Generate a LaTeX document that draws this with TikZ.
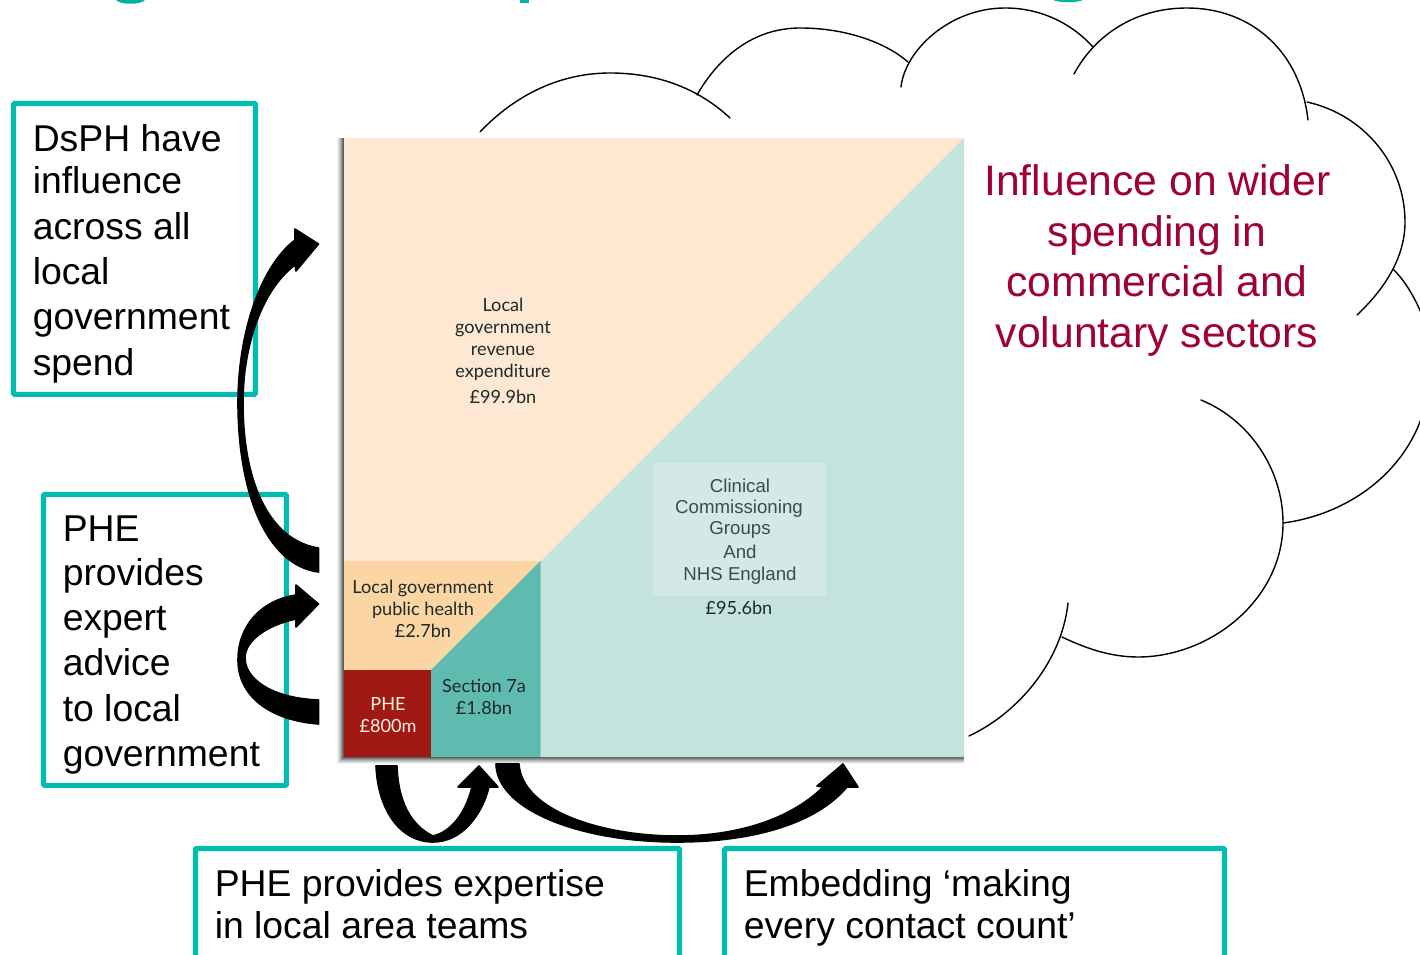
\documentclass[tikz,border=0pt]{standalone}
\usepackage{fontspec}
\setmainfont{Liberation Sans}
\newfontfamily\chartfont{Lato}
\definecolor{tealline}{HTML}{00BDB0}
\definecolor{titleteal}{HTML}{00B2A0}
\definecolor{crim}{HTML}{A00038}
\definecolor{peach}{HTML}{FEE8D2}
\definecolor{paleteal}{HTML}{C5E3DD}
\definecolor{orangepale}{HTML}{FBD5A3}
\definecolor{midteal}{HTML}{5FBBB0}
\definecolor{phered}{HTML}{A01914}
\definecolor{clinbox}{HTML}{D2E9E5}
\definecolor{darktxt}{HTML}{1E2A2A}
\tikzset{
  x=0.75pt,y=-0.75pt,
  tealbox/.style={draw=tealline,line width=3.8pt,rounded corners=0.8pt,anchor=north west,inner sep=0pt,outer sep=0pt},
  boxtext/.style={anchor=base west,align=left,inner sep=0pt,font=\fontsize{28}{33.6}\selectfont},
  cloudarc/.style={draw=black,line width=1.05pt,line cap=round},
  bigarrow/.style={fill=black,draw=black,line width=1.2pt,line join=round},
  chartlab/.style={align=center,inner sep=0pt,anchor=base,font=\chartfont\fontsize{13.6}{16.5}\selectfont,text=darktxt},
  cliniclab/.style={align=center,inner sep=0pt,anchor=base,font=\fontsize{14}{16.3}\selectfont,text=darktxt!85!white},
  cloudtext/.style={align=center,inner sep=0pt,anchor=base,text=crim,font=\fontsize{32}{38}\selectfont},
}
\begin{document}
\begin{tikzpicture}
\useasboundingbox (0,0) rectangle (1420,955);
\clip (0,0) rectangle (1420,955);
\fill[white] (0,0) rectangle (1420,955);

% cut-off title descenders
\fill[titleteal] (116,0) .. controls (120,5) and (141,5) .. (145,0) -- cycle;
\fill[titleteal] (520,0) rectangle (529,3);
\fill[titleteal] (1053,0) .. controls (1060,3) and (1076,3) .. (1083,0) -- cycle;

% cloud
\draw[cloudarc] (480,132) .. controls (515,95) and (560,73) .. (610,73) .. controls (660,73) and (700,90) .. (730,118);
\draw[cloudarc] (697,95) .. controls (720,55) and (755,28) .. (800,28) .. controls (845,28) and (885,42) .. (908,62);
\draw[cloudarc] (901,87) .. controls (905,50) and (950,8) .. (1005,8) .. controls (1045,8) and (1075,27) .. (1093,47);
\draw[cloudarc] (1074,74) .. controls (1095,35) and (1135,8) .. (1187,8) .. controls (1250,8) and (1300,50) .. (1308,120);
\draw[cloudarc] (1307,102) .. controls (1365,115) and (1405,165) .. (1405,222) .. controls (1405,265) and (1375,298) .. (1357,315);
\draw[cloudarc] (1393,269) .. controls (1405,281) and (1415,297) .. (1424,320);
\draw[cloudarc] (1424,410) .. controls (1405,475) and (1345,515) .. (1283,523);
\draw[cloudarc] (1201,400) .. controls (1250,420) and (1283,470) .. (1283,523) .. controls (1283,600) and (1210,657) .. (1138,657) .. controls (1110,657) and (1085,648) .. (1062,637);
\draw[cloudarc] (1068,603) .. controls (1062,660) and (1020,712) .. (969,736);

% chart shadow
\foreach \d/\o in {7/0.05,6/0.07,5/0.09,4/0.12,3/0.15,2/0.2,1/0.25}
  \fill[black,opacity=\o] (344-\d,138) rectangle (964,757+\d);

% chart
\fill[peach] (344,138) rectangle (964,757);
\fill[paleteal] (964,138) -- (964,757) -- (540.5,757) -- (540.5,561.5) -- cycle;
\fill[orangepale] (344,561) -- (541,561) -- (431,670) -- (344,670) -- cycle;
\fill[midteal] (540.5,561) -- (540.5,757) -- (431,757) -- (431,670) -- cycle;
\fill[phered] (344,670) rectangle (431,757);
\fill[clinbox] (653,463) rectangle (826,596);

\node[chartlab] (rev) at (503,312) {Local};
\node[chartlab] (rev2) at (503,334) {government};
\node[chartlab] (rev3) at (503,355) {revenue};
\node[chartlab] (rev4) at (503,378) {expenditure};
\node[chartlab] (rev5) at (503,403) {£99.9bn};
\node[chartlab] (lg1) at (423,593) {Local government};
\node[chartlab] (lg2) at (423,615) {public health};
\node[chartlab] (lg3) at (423,637) {£2.7bn};
\node[chartlab] (s1) at (484,692) {Section 7a};
\node[chartlab] (s2) at (484,714) {£1.8bn};
\node[chartlab,text=white!90!orange] (p1) at (388,710) {PHE};
\node[chartlab,text=white!90!orange] (p2) at (388,732) {£800m};
\node[cliniclab] (c1) at (740,492) {Clinical};
\node[cliniclab] (c2) at (739,513) {Commissioning};
\node[cliniclab] (c3) at (740,534) {Groups};
\node[cliniclab] (c4) at (740,558) {And};
\node[cliniclab] (c5) at (740,580) {NHS England};
\node[chartlab] (c6) at (739,614) {£95.6bn};

% teal boxes
\node[tealbox,minimum width=181.5pt,minimum height=218.2pt] (b1) at (13.5,103.5) {};
\node[tealbox,minimum width=182.2pt,minimum height=218.2pt] (b2) at (43.5,494.5) {};
\node[tealbox,minimum width=363pt,minimum height=120pt] (b3) at (195.5,848.5) {};
\node[tealbox,minimum width=375pt,minimum height=120pt] (b4) at (724.5,848.5) {};

\node[boxtext] (t1a) at (32.5,152) {DsPH have};
\node[boxtext] (t1b) at (32.5,194) {influence};
\node[boxtext] (t1c) at (32.5,240) {across all};
\node[boxtext] (t1d) at (32.5,285) {local};
\node[boxtext] (t1e) at (32.5,330) {government};
\node[boxtext] (t1f) at (32.5,375) {spend};
\node[boxtext] (t2a) at (62.5,541) {PHE};
\node[boxtext] (t2b) at (62.5,585) {provides};
\node[boxtext] (t2c) at (62.5,630) {expert};
\node[boxtext] (t2d) at (62.5,675) {advice};
\node[boxtext] (t2e) at (62.5,721) {to local};
\node[boxtext] (t2f) at (62.5,766) {government};
\node[boxtext] (t3a) at (214.5,896) {PHE provides expertise};
\node[boxtext] (t3b) at (214.5,938) {in local area teams};
\node[boxtext] (t4a) at (743.5,896) {Embedding ‘making};
\node[boxtext] (t4b) at (743.5,938) {every contact count’};

% cloud text
\node[cloudtext] (i1) at (1157.5,196) {Influence on wider};
\node[cloudtext] (i2) at (1157,247) {spending in};
\node[cloudtext] (i3) at (1157,297) {commercial and};
\node[cloudtext] (i4) at (1157,348) {voluntary sectors};

% block arrows
\fill[bigarrow] (318.5,572) .. controls (265,565) and (238,490) .. (238,403) .. controls (238,330) and (262,265) .. (295,240)
  -- (295,229) -- (318.5,244) -- (296,271) -- (295,265)
  .. controls (262,290) and (243,345) .. (243,403) .. controls (243,480) and (268,540) .. (318.5,548) -- cycle;
\fill[bigarrow] (318.5,724) .. controls (268,720) and (238,695) .. (238,660) .. controls (238,625) and (262,600) .. (296,595)
  -- (296,585) -- (318.5,604) -- (296,627) -- (296,619)
  .. controls (268,625) and (245,640) .. (245,658) .. controls (245,678) and (270,698) .. (318.5,700) -- cycle;
\fill[bigarrow] (376,766) .. controls (378,810) and (400,842) .. (433,842) .. controls (462,842) and (482,815) .. (489,787)
  -- (498,787) -- (479,766) -- (458,787) -- (472,787)
  .. controls (465,815) and (450,832) .. (433,836) .. controls (410,825) and (398,800) .. (397,766) -- cycle;
\fill[bigarrow] (496,764) .. controls (497,810) and (580,842) .. (677,842) .. controls (750,842) and (815,825) .. (847,787)
  -- (858,787) -- (843,764) -- (817,786) -- (823,787)
  .. controls (795,815) and (745,836) .. (677,836) .. controls (600,836) and (522,810) .. (519,764) -- cycle;
\end{tikzpicture}
\end{document}
